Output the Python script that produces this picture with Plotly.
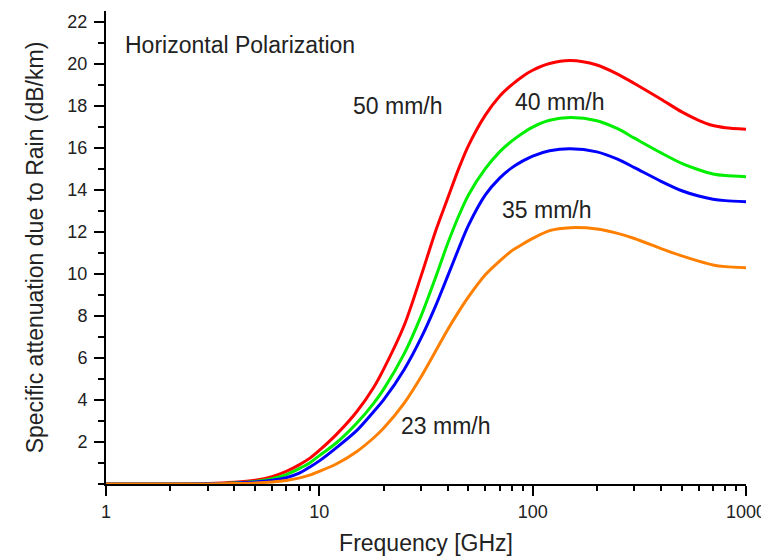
import numpy as np
import plotly.graph_objects as go

freq = [1, 2, 3, 4, 5, 6, 7, 8, 9, 10, 12, 15, 18, 20, 25, 30, 35, 40, 45, 50, 60, 70, 80, 90,
        100, 120, 150, 200, 250, 300, 400, 500, 600, 700, 800, 1000]
rain_50 = [0, 0, 0.02, 0.08, 0.18, 0.35, 0.6, 0.9, 1.22, 1.6, 2.35, 3.45, 4.6, 5.45, 7.55, 9.9,
           12.0, 13.6, 15.0, 16.1, 17.55, 18.45, 19.0, 19.4, 19.68, 20.0, 20.14, 19.93, 19.5, 19.05,
           18.3, 17.7, 17.3, 17.05, 16.95, 16.88]
rain_40 = [0, 0, 0.01, 0.05, 0.12, 0.25, 0.45, 0.72, 1.0, 1.35, 1.95, 2.9, 3.85, 4.5, 6.2, 8.0,
           9.8, 11.45, 12.75, 13.75, 15.0, 15.8, 16.32, 16.7, 16.98, 17.3, 17.43, 17.28, 16.9, 16.45,
           15.75, 15.25, 14.95, 14.75, 14.67, 14.62]
rain_35 = [0, 0, 0.01, 0.04, 0.09, 0.18, 0.3, 0.5, 0.8, 1.1, 1.72, 2.55, 3.45, 4.0, 5.45, 6.95,
           8.45, 9.9, 11.2, 12.3, 13.75, 14.55, 15.05, 15.37, 15.6, 15.85, 15.95, 15.8, 15.45, 15.05,
           14.4, 13.95, 13.7, 13.55, 13.48, 13.43]
rain_23 = [0, 0, 0, 0.02, 0.05, 0.1, 0.17, 0.28, 0.42, 0.6, 0.95, 1.55, 2.2, 2.65, 3.85, 5.1,
           6.3, 7.35, 8.2, 8.9, 9.95, 10.6, 11.1, 11.42, 11.68, 12.05, 12.19, 12.13, 11.92, 11.68,
           11.2, 10.85, 10.6, 10.42, 10.34, 10.29]

series = [("50 mm/h", rain_50, "#ff0000"), ("40 mm/h", rain_40, "#00ee00"),
          ("35 mm/h", rain_35, "#0000ff"), ("23 mm/h", rain_23, "#ff8000")]

labels = [("50 mm/h", 23.3, 18.0), ("40 mm/h", 133, 18.15), ("35 mm/h", 116, 13.05),
          ("23 mm/h", 39, 2.75)]
title_text = "Horizontal Polarization"

y_ticks = [2, 4, 6, 8, 10, 12, 14, 16, 18, 20, 22]
x_ticks = [1, 10, 100, 1000]

FONT = "Arial, Liberation Sans, sans-serif"
fig = go.Figure()
for name, vals, col in series:
    fig.add_trace(go.Scatter(x=freq, y=vals, mode="lines", name=name,
                             line=dict(color=col, width=3, shape="spline", smoothing=0.8)))

for txt, xv, yv in labels:
    fig.add_annotation(x=np.log10(xv), y=yv, text=txt, showarrow=False,
                       font=dict(size=23, color="#222", family=FONT))
fig.add_annotation(x=np.log10(1.2), y=20.86, text=title_text, showarrow=False, xanchor="left",
                   font=dict(size=23, color="#222", family=FONT))

common_x = dict(type="log", range=[0, 3], showgrid=False, zeroline=False,
                linecolor="black", linewidth=2, automargin=False)
common_y = dict(range=[0, 22.5], showgrid=False, zeroline=False,
                linecolor="black", linewidth=2, automargin=False)

# the page body has an 8px margin, so the figure is sized to fill the rest of the window
fig.update_layout(
    width=761, height=549, showlegend=False,
    plot_bgcolor="white", paper_bgcolor="white",
    margin=dict(l=98, r=23, t=3, b=73),
    font=dict(family=FONT, color="#222"),
    xaxis=dict(**common_x, tickvals=x_ticks, ticktext=[str(v) for v in x_ticks],
               ticks="outside", ticklen=10, tickwidth=2, tickcolor="black",
               minor=dict(ticks="outside", ticklen=5, tickwidth=2, tickcolor="black", dtick="D1"),
               tickfont=dict(size=18), title=dict(text="Frequency [GHz]", font=dict(size=23), standoff=14)),
    yaxis=dict(**common_y, tickvals=y_ticks, ticks="outside", ticklen=10, tickwidth=2,
               tickcolor="black", ticklabelstandoff=3,
               minor=dict(ticks="outside", ticklen=6, tickwidth=2, tickcolor="black",
                          tickmode="linear", tick0=0, dtick=1),
               tickfont=dict(size=18),
               title=dict(text="Specific attenuation due to Rain (dB/km)", font=dict(size=23), standoff=17)),
    xaxis2=dict(**common_x, overlaying="x", side="top", tickvals=x_ticks, showticklabels=False,
                ticks="inside", ticklen=10, tickwidth=2, tickcolor="black",
                minor=dict(ticks="inside", ticklen=5, tickwidth=2, tickcolor="black", dtick="D1")),
    yaxis2=dict(**common_y, overlaying="y", side="right", tickvals=y_ticks, showticklabels=False,
                ticks="inside", ticklen=10, tickwidth=2, tickcolor="black",
                minor=dict(ticks="inside", ticklen=6, tickwidth=2, tickcolor="black",
                           tickmode="linear", tick0=0, dtick=1)),
)
fig.write_html("out.html")
